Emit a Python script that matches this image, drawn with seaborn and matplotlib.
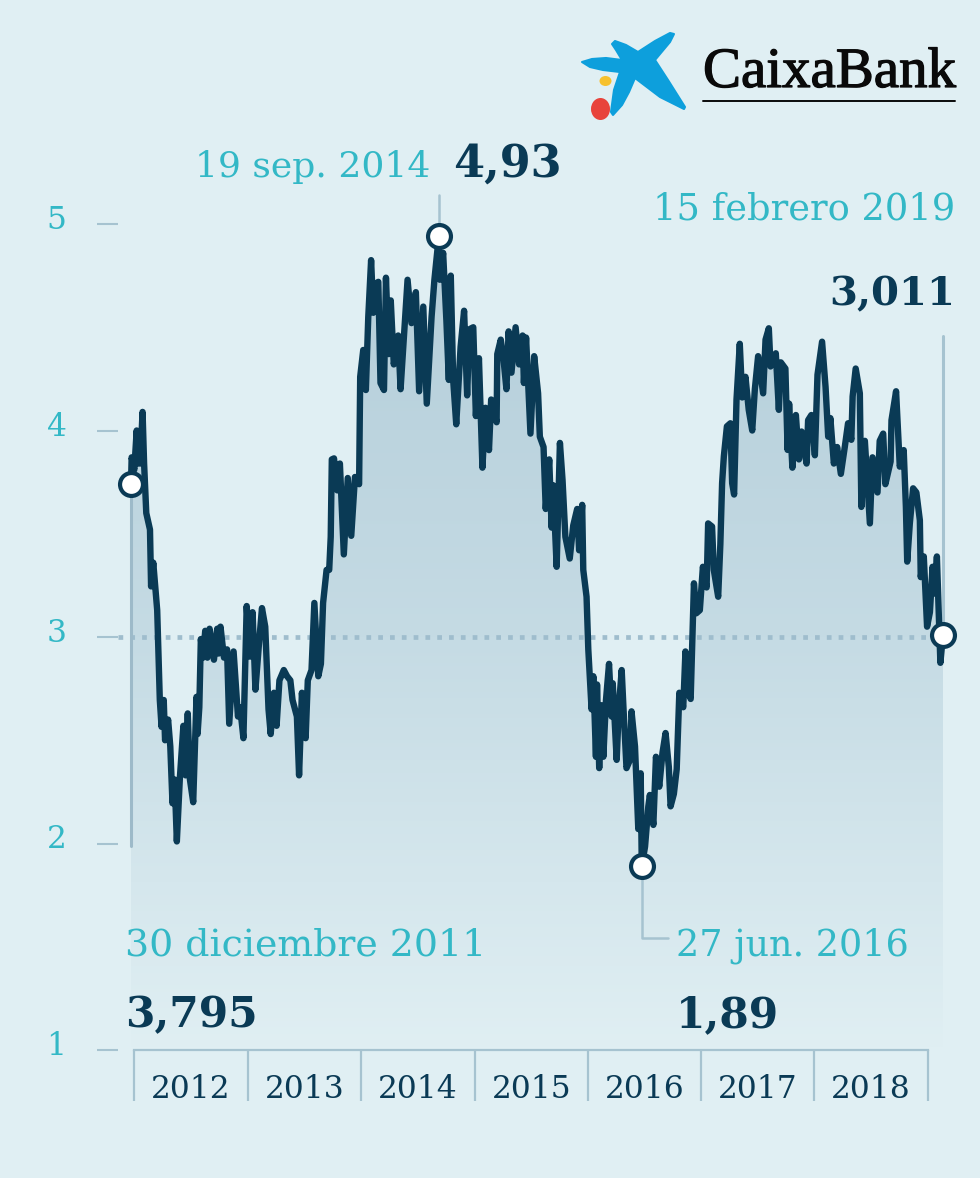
import numpy as np
import pandas as pd
import matplotlib
matplotlib.use("Agg")
import matplotlib.pyplot as plt
import matplotlib.patheffects as pe
from matplotlib.colors import LinearSegmentedColormap
from matplotlib.patches import Ellipse, Polygon
from matplotlib.transforms import ScaledTranslation
import seaborn as sns

# Cotizacion: semanas desde el 30 dic. 2011 y euros por accion
semanas = [
    0, 0.3, 1.5, 2.6, 3, 3.6, 4.2, 5.3, 6, 7, 8.7, 9.2, 10.2, 11, 12, 12.6, 13.2, 14, 15, 15.6, 17, 18, 19, 20, 21,
    22.4, 24, 25, 26, 27, 28.5, 30, 30.5, 31.3, 32, 33, 34, 35, 36, 38, 39.5, 40.2, 41, 42.6, 44, 45, 47, 49, 50, 51.5,
    53, 54.5, 55.7, 57, 58.5, 60, 61.5, 63, 64, 65.5, 66.7, 68, 70, 71.5, 73, 74, 76, 77, 78.3, 80, 81, 82.7, 84, 85.8,
    87, 88, 89.6, 90.8, 91.5, 92, 93, 94.5, 95.7, 97.5, 99.3, 100.9, 102.6, 104.5,
    105, 106.4, 107.6, 108.7, 110, 111, 112, 113.3, 114.3, 115.9, 116.8, 118.1, 119, 120.4, 122.4, 123.5, 125, 126.7,
    128.5, 130.5, 132, 133.9, 135.5, 137.7, 139, 141, 141.5, 143, 144.5, 145.6, 146.5, 147.6, 149, 151, 152.6, 154,
    155, 156.8, 158, 159.4, 161, 162.4, 164, 165, 167.5, 167.8, 169.4, 170.7, 172, 173, 174.3, 176.2, 177.8, 179.4,
    180, 181, 183, 184.7, 186.5, 187.3, 189, 190, 191.6, 192.7, 193.4, 195, 196.5, 197.7, 199, 201, 202.6, 204.4,
    205.3, 206.7, 207.2, 208.7, 209.5, 211, 211.8, 213, 213.5, 214.5, 215.3, 216.4, 217.6, 219, 220.2, 220.7, 222.5,
    223.5, 224.8, 225.6, 227, 228.6, 229.3, 230.9, 232.4, 233.5, 234, 235.5, 237, 237.7, 239.3, 240.5, 242, 243.5,
    244.9, 246.4, 247.2, 248.7, 250, 251.2, 253, 254, 255, 256.4, 257.9, 259, 260.6, 262, 263.7, 264.4, 266.2, 267,
    269, 270, 270.8, 271.6, 273, 274.6, 275.4, 276.3, 277.4, 278.9, 280, 281.5, 283, 284.6, 285.8, 287.3, 289.6,
    290.7, 292.2, 293, 295.4, 296.8, 297.7, 299.8, 300.8, 301.5, 303, 304.6, 306, 307.2, 309.5, 310.2, 311.7, 313.3,
    314.5, 316.6, 318.2, 319.4, 320.4, 322, 323.5, 325.2, 327, 328.5, 330, 330.6, 332, 333.9, 334.6, 336.2, 338.5,
    339.7, 342, 343, 344.6, 345.6, 348, 348.4, 350.5, 352.2, 354, 355, 355.6, 356.8, 358.3, 359.8, 361.4, 361.8,
    363.2, 364.7, 366, 367.2, 368.2, 369.2, 370, 370.8, 372,
]
cotizacion = [
    3.74, 3.87, 3.81, 4.0, 3.84, 3.99, 3.84, 4.09, 3.84, 3.6, 3.52, 3.245, 3.36, 3.26, 3.13, 2.905, 2.695, 2.565, 2.695, 2.5, 2.6, 2.47, 2.195, 2.31, 2.01,
    2.32, 2.57, 2.33, 2.63, 2.31, 2.2, 2.71, 2.53, 2.66, 2.99, 2.9, 3.03, 2.9, 3.04, 2.89, 3.04, 2.92, 3.05, 2.9, 2.94, 2.58, 2.93, 2.615, 2.66, 2.51,
    3.15, 2.905, 3.12, 2.745, 2.95, 3.14, 3.05, 2.65, 2.53, 2.73, 2.57, 2.79, 2.84, 2.81, 2.79, 2.695, 2.615, 2.33, 2.73, 2.51, 2.79, 2.84, 3.165, 2.81,
    2.87, 3.165, 3.325, 3.325, 3.485, 3.86, 3.865, 3.71, 3.84, 3.4, 3.77, 3.49, 3.775, 3.74,
    4.26, 4.39, 4.196, 4.55, 4.825, 4.57, 4.71, 4.72, 4.23, 4.196, 4.74, 4.37, 4.63, 4.32, 4.46, 4.2, 4.45, 4.73,
    4.52, 4.67, 4.19, 4.6, 4.13, 4.55, 4.73, 4.94, 4.73, 4.86, 4.53, 4.245, 4.75, 4.245, 4.03, 4.405, 4.58, 4.17,
    4.49, 4.5, 4.07, 4.35, 3.82, 4.11, 3.905, 4.15, 4.04, 4.37, 4.44, 4.34, 4.2, 4.48, 4.28, 4.5, 4.32, 4.46,
    4.23, 4.45, 3.985, 4.36, 4.18, 3.97, 3.92, 3.62, 3.86, 3.53, 3.735, 3.34, 3.94, 3.76, 3.485, 3.38, 3.54, 3.62,
    3.42, 3.64, 3.325, 3.195, 2.94, 2.65, 2.81, 2.42, 2.77, 2.365, 2.67, 2.42, 2.695, 2.87, 2.615, 2.776, 2.405,
    2.66, 2.84, 2.66, 2.365, 2.405, 2.64, 2.47, 2.07, 2.34, 1.89, 1.985, 2.18, 2.235, 2.09, 2.42, 2.275, 2.44,
    2.535, 2.37, 2.18, 2.24, 2.36, 2.73, 2.66, 2.93, 2.745, 2.70, 3.26, 3.115, 3.13, 3.34, 3.24, 3.55, 3.535, 3.325,
    3.195, 3.45, 3.745, 3.875, 4.02, 4.035, 3.745, 3.69, 4.15, 4.42, 4.16, 4.26, 4.10, 4.0, 4.2, 4.36, 4.18,
    4.44, 4.495, 4.31, 4.374, 4.10, 4.33, 4.30, 3.906, 4.13, 3.82, 4.075, 3.86, 3.995, 3.84, 4.05, 4.075, 3.88,
    4.27, 4.43, 4.21, 3.97, 4.06, 3.84, 3.92, 3.79, 3.92, 4.035, 3.955, 4.165, 4.30, 4.18, 3.63, 3.95, 3.55,
    3.87, 3.70, 3.95, 3.985, 3.74, 3.85, 4.05, 4.19, 3.825, 3.905, 3.63, 3.365, 3.55, 3.72, 3.70, 3.565, 3.29,
    3.39, 3.05, 3.12, 3.34, 3.21, 3.39, 3.13, 2.875, 3.011,
]

# Semanas donde el eje marca el cambio de año
cambios_anio = [1.4, 53.4, 105.4, 157.6, 209.3, 261.1, 312.9, 365.1]
anios = ["2012", "2013", "2014", "2015", "2016", "2017", "2018"]
valores_y = [1, 2, 3, 4, 5]

semana_max = 141
semana_min = 234

FONDO = "#e0eff3"
AZUL = "#0a3a55"
TURQUESA = "#33b8c6"
GRIS = "#a6c3d0"
SERIF = "DejaVu Serif"

df = pd.DataFrame({"semana": semanas, "cotizacion": cotizacion})

sns.set_style("white", {"figure.facecolor": FONDO, "axes.facecolor": "none"})
fig = plt.figure(figsize=(9.8, 11.78), dpi=100)
ax = fig.add_axes([131 / 980, 1 - 1050 / 1178, 812 / 980, 826 / 1178])

# Area con degradado bajo la linea
area = ax.fill_between(df["semana"], df["cotizacion"], 1, color="none", linewidth=0)
cmap = LinearSegmentedColormap.from_list("area", ["#b3cdd9", "#c5dbe4", FONDO])
degradado = ax.imshow(np.linspace(0, 1, 256).reshape(-1, 1), cmap=cmap, extent=(0, 372, 1, 5),
                      aspect="auto", zorder=1)
degradado.set_clip_path(area.get_paths()[0], transform=ax.transData)

ax.plot([-6, 372], [3, 3], color="#9fbdcd", lw=3.4, dashes=(1, 1.5), zorder=2, clip_on=False)

# Lineas finas que unen cada punto con su rotulo
ax.plot([0, 0], [3.74, 1.99], color="#9dbac9", lw=2.2, zorder=2, clip_on=False)
ax.plot([semana_max, semana_max], [4.94, 5.14], color=GRIS, lw=1.8, zorder=2, clip_on=False)
ax.plot([372, 372], [3.011, 4.46], color=GRIS, lw=2.2, zorder=2, clip_on=False)
ax.plot([semana_min, semana_min, 246], [1.89, 1.54, 1.54], color=GRIS, lw=1.8, zorder=2)

sns.lineplot(data=df, x="semana", y="cotizacion", estimator=None, sort=False, color=AZUL, lw=4.6,
             ax=ax, zorder=3, clip_on=False, solid_joinstyle="round")

destacados = df[df["semana"].isin([0, semana_max, semana_min, 372])]
ax.plot(destacados["semana"], destacados["cotizacion"], ls="none", marker="o", ms=16.5, mfc="white",
        mec=AZUL, mew=3, zorder=4, clip_on=False)

ax.set_xlim(0, 372)
ax.set_ylim(1, 5)
ax.set_xlabel("")
ax.set_ylabel("")

for lado in ["top", "right", "left"]:
    ax.spines[lado].set_visible(False)
ax.spines["left"].set_position(("outward", 9.4))
ax.spines["bottom"].set_color(GRIS)
ax.spines["bottom"].set_linewidth(1.6)
ax.spines["bottom"].set_bounds(cambios_anio[0], cambios_anio[-1])

ax.set_yticks(valores_y)
ax.set_yticklabels([str(v) for v in valores_y], fontfamily=SERIF)
ax.tick_params(axis="y", length=15, width=1.5, color=GRIS, labelcolor=TURQUESA, labelsize=22.5, pad=22, left=True)
# Los numeros del eje van algo por encima de su marca
for etiqueta in ax.get_yticklabels():
    etiqueta.set_transform(etiqueta.get_transform() + ScaledTranslation(0, 7 / 100, fig.dpi_scale_trans))

ax.set_xticks(cambios_anio)
ax.set_xticklabels([])
centros = (np.array(cambios_anio[:-1]) + np.array(cambios_anio[1:])) / 2
ax.set_xticks(centros, labels=anios, minor=True, fontfamily=SERIF)
ax.tick_params(axis="x", which="major", length=36.5, width=1.6, color=GRIS, bottom=True)
ax.tick_params(axis="x", which="minor", length=0, pad=17, labelsize=22.5, labelcolor=AZUL)

# Capa en pixeles para rotulos y logotipo
capa = fig.add_axes([0, 0, 1, 1], facecolor="none")
capa.set_xlim(0, 980)
capa.set_ylim(1178, 0)
capa.axis("off")

rotulos = [
    (195, 177, "19 sep. 2014", "left", False, 26),
    (453, 177, "4,93", "left", True, 32),
    (955, 220, "15 febrero 2019", "right", False, 26.5),
    (955, 305, "3,011", "right", True, 29),
    (125, 955, "30 diciembre 2011", "left", False, 27.3),
    (125, 1027, "3,795", "left", True, 30.5),
    (676, 955, "27 jun. 2016", "left", False, 26.3),
    (676, 1027, "1,89", "left", True, 30.5),
]
for x, y, texto, alineado, negrita, tamano in rotulos:
    capa.text(x, y, texto, ha=alineado, va="baseline", fontfamily=SERIF,
              color=AZUL if negrita else TURQUESA, fontsize=tamano,
              fontweight="bold" if negrita else "normal")

# Logotipo
estrella = [(582, 62), (592, 59), (606, 58), (622, 60), (616, 50), (612, 44), (615, 41), (626, 45), (638, 52),
            (655, 41), (670, 33), (674, 34), (670, 42), (655, 60), (668, 80), (685, 107), (684, 109), (660, 97),
            (635, 78), (629, 92), (622, 105), (613, 115), (611, 112), (614, 90), (620, 72), (603, 70), (590, 67)]
capa.add_patch(Polygon(estrella, closed=True, fc="#0d9fdc", ec="#0d9fdc", lw=1.5, joinstyle="round"))
capa.add_patch(Ellipse((605.5, 81), 12, 10, fc="#f6c12e", ec="none"))
capa.add_patch(Ellipse((600.5, 109), 19, 22, fc="#e8433b", ec="none"))
capa.text(703, 87, "CaixaBank", fontfamily="Liberation Serif", fontsize=41, color="#0a0a0a", va="baseline",
          path_effects=[pe.withStroke(linewidth=0.9, foreground="#0a0a0a")])
capa.plot([703, 955], [101, 101], color="#0a0a0a", lw=1.4)

fig.savefig("out.png", dpi=100, facecolor=FONDO)
